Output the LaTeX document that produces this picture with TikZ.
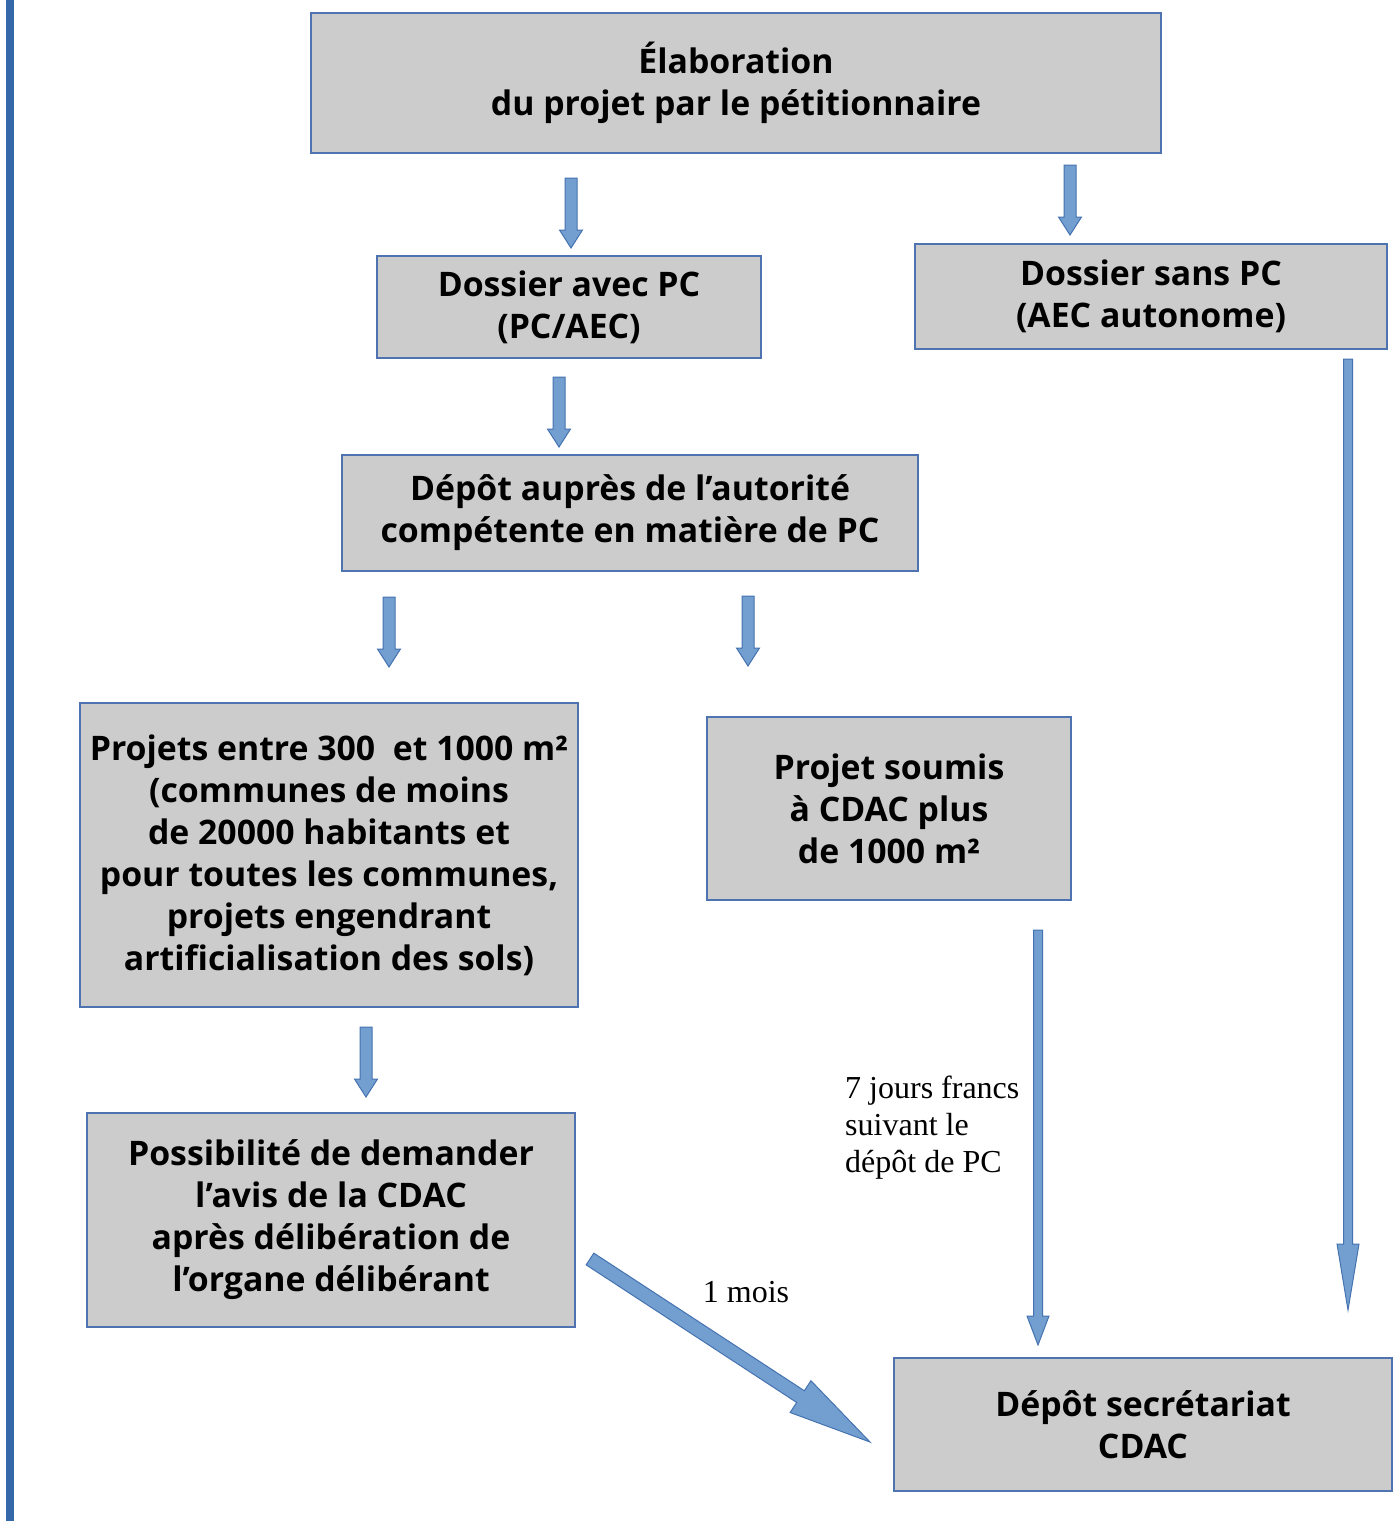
\documentclass[tikz,border=0pt]{standalone}
\usepackage{fontspec}
\setmainfont{Open Sans}
\newfontfamily\serifLabel{Liberation Serif}
\usetikzlibrary{calc, positioning}

\definecolor{boxFill}{RGB}{204,204,204}
\definecolor{boxLine}{RGB}{79,114,176}
\definecolor{arrowFill}{RGB}{114,159,207}
\definecolor{arrowLine}{RGB}{69,114,176}
\definecolor{barBlue}{RGB}{52,104,168}

\begin{document}
\begin{tikzpicture}[x=1pt, y=-1pt,
    box/.style={draw=boxLine, line width=1.2pt, fill=boxFill, align=center, inner sep=0pt,
        font=\bfseries\fontsize{33.8}{42}\selectfont},
    note/.style={align=left, inner sep=0pt, font=\serifLabel\fontsize{32}{37}\selectfont},
    arrowBody/.style={fill=arrowFill, draw=arrowLine, line width=1pt, line join=miter}]
        % block arrow: start, tip, half shaft, half head, head length
        \newcommand{\flowArrow}[5]{
            \coordinate (flowHead) at ($(#2)!#5!(#1)$);
            \filldraw [arrowBody] ($(#1)!#3!90:(#2)$) -- ($(flowHead)!#3!90:(#2)$)
                -- ($(flowHead)!#4!90:(#2)$) -- (#2) -- ($(flowHead)!#4!-90:(#2)$)
                -- ($(flowHead)!#3!-90:(#2)$) -- ($(#1)!#3!-90:(#2)$) -- cycle;
        }
        \useasboundingbox (0,0) rectangle (1400,1521);
        \fill [barBlue] (6,0) rectangle (14,1521);
        % boxes
        \node [box, minimum width=850pt, minimum height=140pt] (elab) at (736,83)
            {Élaboration\\du projet par le pétitionnaire};
        \node [box, minimum width=384pt, minimum height=102pt] (avecPC) at (569,307)
            {Dossier avec PC\\(PC/AEC)};
        \node [box, minimum width=472pt, minimum height=105pt] (sansPC) at (1151,296.5)
            {Dossier sans PC\\(AEC autonome)};
        \node [box, minimum width=576pt, minimum height=116pt] (depotPC) at (630,513)
            {Dépôt auprès de l’autorité\\compétente en matière de PC};
        \node [box, minimum width=498pt, minimum height=304pt] (petits) at (329,855)
            {Projets entre 300\ \ et 1000 m²\\(communes de moins\\de 20000 habitants et\\pour toutes les communes,\\projets engendrant\\artificialisation des sols)};
        \node [box, minimum width=364pt, minimum height=183pt] (soumis) at (889,808.5)
            {Projet soumis\\à CDAC plus\\de 1000 m²};
        \node [box, minimum width=488pt, minimum height=214pt] (avisCDAC) at (331,1220)
            {Possibilité de demander\\l’avis de la CDAC\\après délibération de\\l’organe délibérant};
        \node [box, minimum width=498pt, minimum height=133pt] (secretariat) at (1143,1424.5)
            {Dépôt secrétariat\\CDAC};
        % arrow ends
        \coordinate (elabA) at (571,178);   \coordinate (avecA) at (571,248);
        \coordinate (elabB) at (1070,165);  \coordinate (sansB) at (1070,235);
        \coordinate (avecC) at (559,377);   \coordinate (depotC) at (559,447);
        \coordinate (depotD) at (389,597);  \coordinate (petitsD) at (389,667);
        \coordinate (depotE) at (748,596);  \coordinate (soumisE) at (748,666);
        \coordinate (petitsF) at (366,1027); \coordinate (avisF) at (366,1097);
        \coordinate (soumisG) at (1038,930); \coordinate (secrG) at (1038,1345);
        \coordinate (sansH) at (1348,359);  \coordinate (secrH) at (1348,1310);
        \coordinate (avisK) at (590,1259);  \coordinate (secrK) at (870,1442);
        \flowArrow{elabA}{avecA}{6pt}{11.5pt}{18pt}
        \flowArrow{elabB}{sansB}{6pt}{11.5pt}{18pt}
        \flowArrow{avecC}{depotC}{6pt}{11.5pt}{18pt}
        \flowArrow{depotD}{petitsD}{6pt}{11.5pt}{18pt}
        \flowArrow{depotE}{soumisE}{6pt}{11.5pt}{18pt}
        \flowArrow{petitsF}{avisF}{6pt}{11.5pt}{18pt}
        \flowArrow{soumisG}{secrG}{4.5pt}{11pt}{29pt}
        \flowArrow{sansH}{secrH}{4.5pt}{11pt}{66pt}
        \flowArrow{avisK}{secrK}{7pt}{19pt}{83pt}
        % labels
        \node [note] (unMois) at (746,1292) {1 mois};
        \node [note, anchor=north west] (delai) at (845,1076)
            {7 jours francs\\suivant le\\dépôt de PC};
\end{tikzpicture}
\end{document}
